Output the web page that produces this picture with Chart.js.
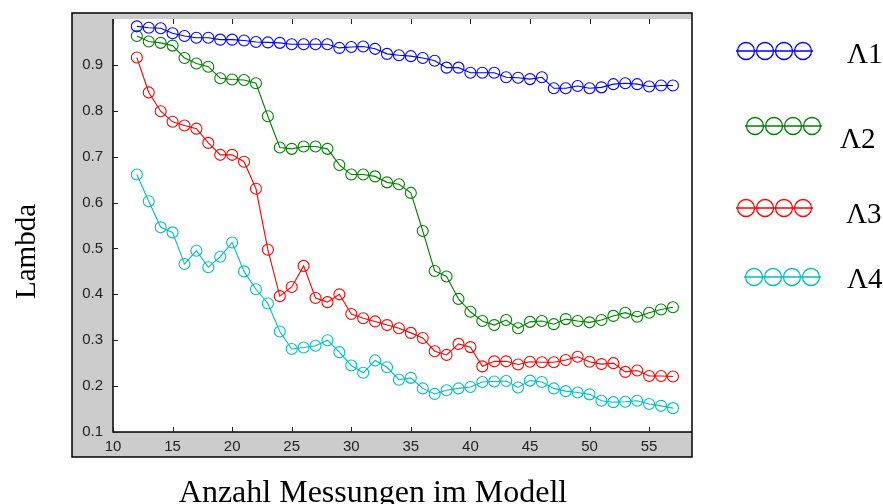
<!DOCTYPE html>
<html>
<head>
<meta charset="utf-8">
<script src="https://cdn.jsdelivr.net/npm/chart.js@4.4.0/dist/chart.umd.min.js"></script>
<style>
html, body { margin: 0; padding: 0; background: #fff; }
#wrap { width: 883px; height: 504px; }
</style>
</head>
<body>
<div id="wrap"><canvas id="lambdaChart" width="883" height="504"></canvas></div>
<script>
// Anzahl Messungen (x) and the four lambda curves
const messungen = [12, 13, 14, 15, 16, 17, 18, 19, 20, 21, 22, 23, 24, 25, 26, 27, 28, 29, 30, 31, 32, 33, 34, 35, 36, 37, 38, 39, 40, 41, 42, 43, 44, 45, 46, 47, 48, 49, 50, 51, 52, 53, 54, 55, 56, 57];
const lambda1 = [0.984, 0.981, 0.980, 0.969, 0.963, 0.959, 0.959, 0.955, 0.955, 0.953,
                 0.950, 0.949, 0.948, 0.945, 0.945, 0.945, 0.945, 0.937, 0.939, 0.940,
                 0.935, 0.924, 0.921, 0.919, 0.915, 0.909, 0.894, 0.894, 0.883, 0.883,
                 0.883, 0.873, 0.872, 0.869, 0.873, 0.849, 0.849, 0.854, 0.849, 0.851,
                 0.858, 0.860, 0.858, 0.853, 0.855, 0.855];
const lambda2 = [0.963, 0.951, 0.948, 0.942, 0.915, 0.903, 0.896, 0.871, 0.868, 0.867,
                 0.860, 0.788, 0.720, 0.717, 0.722, 0.722, 0.717, 0.682, 0.661, 0.661,
                 0.657, 0.644, 0.640, 0.621, 0.538, 0.451, 0.439, 0.390, 0.362, 0.342,
                 0.333, 0.344, 0.326, 0.340, 0.342, 0.335, 0.346, 0.342, 0.339, 0.344,
                 0.353, 0.360, 0.351, 0.360, 0.367, 0.372];
const lambda3 = [0.916, 0.840, 0.799, 0.776, 0.768, 0.761, 0.730, 0.704, 0.704, 0.689,
                 0.630, 0.497, 0.396, 0.416, 0.462, 0.392, 0.383, 0.400, 0.357, 0.348,
                 0.341, 0.333, 0.326, 0.316, 0.305, 0.276, 0.268, 0.292, 0.285, 0.243,
                 0.254, 0.254, 0.247, 0.253, 0.252, 0.252, 0.257, 0.264, 0.253, 0.248,
                 0.250, 0.231, 0.234, 0.222, 0.222, 0.221];
const lambda4 = [0.661, 0.603, 0.546, 0.535, 0.466, 0.495, 0.459, 0.482, 0.513, 0.450,
                 0.411, 0.380, 0.319, 0.281, 0.284, 0.288, 0.300, 0.274, 0.245, 0.229,
                 0.256, 0.241, 0.214, 0.218, 0.195, 0.183, 0.191, 0.195, 0.198, 0.209,
                 0.210, 0.211, 0.197, 0.212, 0.209, 0.195, 0.189, 0.186, 0.182, 0.168,
                 0.165, 0.166, 0.168, 0.161, 0.157, 0.152];

const seriesNames = ['\u039B1', '\u039B2', '\u039B3', '\u039B4'];
const seriesColors = ['#0000ff', '#008000', '#ff0000', '#00bfbf'];
const xTicks = [10, 15, 20, 25, 30, 35, 40, 45, 50, 55];
const yTicks = [0.1, 0.2, 0.3, 0.4, 0.5, 0.6, 0.7, 0.8, 0.9];

const allSeries = [lambda1, lambda2, lambda3, lambda4];

// legend sample spots on the right (line start x, y, text x, text baseline)
const legendSpots = [
    { x: 736, y: 51, tx: 847, ty: 63 },
    { x: 745, y: 126, tx: 840, ty: 148 },
    { x: 736, y: 208, tx: 846, ty: 223 },
    { x: 744, y: 277, tx: 847, ty: 288 }
];

const framePlugin = {
    id: 'frame',
    beforeDraw(chart) {
        const ctx = chart.ctx, a = chart.chartArea;
        ctx.save();
        ctx.fillStyle = '#fff';
        ctx.fillRect(0, 0, chart.width, chart.height);
        ctx.fillStyle = '#cccccc';
        ctx.fillRect(72, 13, a.right - 72, 444);
        ctx.fillStyle = '#fff';
        ctx.fillRect(a.left, a.top, a.right - a.left, a.bottom - a.top);
        ctx.restore();
    },
    afterDraw(chart) {
        const ctx = chart.ctx, a = chart.chartArea;
        const xs = chart.scales.x, ys = chart.scales.y;
        ctx.save();
        ctx.strokeStyle = '#000';
        ctx.lineWidth = 1.5;
        ctx.strokeRect(72, 13, a.right - 72, 444);
        ctx.beginPath();
        ctx.moveTo(a.left, a.top);
        ctx.lineTo(a.left, a.bottom);
        ctx.lineTo(a.right, a.bottom);
        ctx.stroke();

        // inward ticks
        ctx.lineWidth = 1;
        ctx.strokeStyle = '#222';
        ctx.beginPath();
        xTicks.forEach(v => {
            const px = Math.round(xs.getPixelForValue(v)) + 0.5;
            ctx.moveTo(px, a.bottom); ctx.lineTo(px, a.bottom - 5);
            ctx.moveTo(px, a.top); ctx.lineTo(px, a.top + 5);
        });
        yTicks.forEach(v => {
            const py = Math.round(ys.getPixelForValue(v)) + 0.5;
            ctx.moveTo(a.left, py); ctx.lineTo(a.left + 5, py);
        });
        ctx.stroke();

        // axis titles
        ctx.fillStyle = '#000';
        ctx.font = '32px "Liberation Serif"';
        ctx.textAlign = 'center';
        ctx.textBaseline = 'alphabetic';
        ctx.fillText('Anzahl Messungen im Modell', 373, 502);
        ctx.save();
        ctx.translate(35, 251.5);
        ctx.rotate(-Math.PI / 2);
        ctx.font = '29px "Liberation Serif"';
        ctx.fillText('Lambda', 0, 0);
        ctx.restore();

        // legend
        ctx.textAlign = 'left';
        ctx.font = '29px "Liberation Serif"';
        legendSpots.forEach((s, i) => {
            ctx.strokeStyle = seriesColors[i];
            ctx.lineWidth = 1.3;
            ctx.beginPath();
            ctx.moveTo(s.x, s.y);
            ctx.lineTo(s.x + 77, s.y);
            ctx.stroke();
            for (let k = 0; k < 4; k++) {
                ctx.beginPath();
                ctx.arc(s.x + 10 + k * 19, s.y, 8.5, 0, Math.PI * 2);
                ctx.stroke();
            }
            ctx.fillStyle = '#000';
            ctx.fillText(seriesNames[i], s.tx, s.ty);
        });
        ctx.restore();
    }
};

const lambdaCtx = document.getElementById('lambdaChart').getContext('2d');
const lambdaChart = new Chart(lambdaCtx, {
    type: 'line',
    data: {
        datasets: allSeries.map((vals, i) => ({
            label: seriesNames[i],
            data: vals.map((v, j) => ({ x: messungen[j], y: v })),
            borderColor: seriesColors[i],
            backgroundColor: 'transparent',
            borderWidth: 1.1,
            pointStyle: 'circle',
            pointRadius: 5.5,
            pointBorderWidth: 1.1,
            pointBackgroundColor: 'transparent',
            pointBorderColor: seriesColors[i],
            tension: 0,
            fill: false
        }))
    },
    options: {
        responsive: false,
        animation: false,
        devicePixelRatio: 1,
        layout: { padding: { left: 0, right: 191, top: 15, bottom: 0 } },
        plugins: { legend: { display: false }, tooltip: { enabled: false } },
        scales: {
            x: {
                type: 'linear',
                min: 10,
                max: 58.6,
                grid: { display: false, drawTicks: false },
                border: { display: false },
                afterBuildTicks: s => { s.ticks = xTicks.map(v => ({ value: v })); },
                afterFit: s => { s.height = 72; },
                ticks: {
                    autoSkip: false,
                    maxRotation: 0,
                    padding: 6,
                    color: '#222',
                    font: { family: '"Liberation Sans"', size: 15 },
                    callback: v => String(v)
                }
            },
            y: {
                min: 0.1,
                max: 1.0,
                grid: { display: false, drawTicks: false },
                border: { display: false },
                afterBuildTicks: s => { s.ticks = yTicks.map(v => ({ value: v })); },
                afterFit: s => { s.width = 113; },
                ticks: {
                    padding: 10,
                    color: '#222',
                    font: { family: '"Liberation Sans"', size: 15 },
                    callback: v => v.toFixed(1)
                }
            }
        }
    },
    plugins: [framePlugin]
});
</script>
</body>
</html>
